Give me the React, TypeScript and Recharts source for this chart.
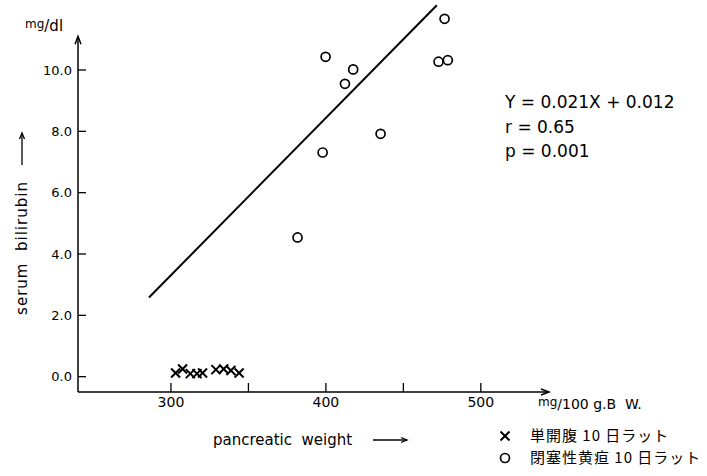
import { ScatterChart, Scatter, XAxis, YAxis, ReferenceLine, Customized } from 'recharts';

// 単開腹 10日ラット (×)
const shamWeight = [303, 307.5, 312.5, 316.8, 320.4, 329, 334, 338.7, 344];
const shamBilirubin = [0.12, 0.25, 0.1, 0.1, 0.12, 0.23, 0.25, 0.2, 0.12];

// 閉塞性黄疸 10日ラット (○)
const jaundiceWeight = [381.7, 397.9, 399.8, 412.3, 417.6, 435.3, 472.7, 476.6, 478.7];
const jaundiceBilirubin = [4.54, 7.31, 10.43, 9.55, 10.02, 7.92, 10.27, 11.67, 10.32];

// regression line ends
const fitWeight = [285.8, 471.6];
const fitBilirubin = [2.58, 12.11];

const xTicks = [300, 350, 400, 450, 500];
const xTickLabels = ['300', '', '400', '', '500'];
const yTicks = [0, 2, 4, 6, 8, 10];

const X_MIN = 240;
const X_MAX = 544;
const Y_MIN = -0.5;
const Y_MAX = 12.25;
const Y_AXIS_TOP = 11.1;

const FONT = '"DejaVu Sans", sans-serif';
const JP_FONT = '"Noto Sans CJK JP", sans-serif';

const sham = shamWeight.map((x, i) => ({ x, y: shamBilirubin[i] }));
const jaundice = jaundiceWeight.map((x, i) => ({ x, y: jaundiceBilirubin[i] }));
const fit = fitWeight.map((x, i) => ({ x, y: fitBilirubin[i] }));

const Cross = ({ cx, cy }: any) => (
  <g stroke="#000" strokeWidth={2}>
    <line x1={cx - 4.5} y1={cy - 4.5} x2={cx + 4.5} y2={cy + 4.5} />
    <line x1={cx - 4.5} y1={cy + 4.5} x2={cx + 4.5} y2={cy - 4.5} />
  </g>
);

const Ring = ({ cx, cy }: any) => (
  <circle cx={cx} cy={cy} r={4.5} fill="#fff" stroke="#000" strokeWidth={1.7} />
);

const AxisArrow = ({ x1, y1, x2, y2 }: any) => {
  const vertical = Math.abs(x1 - x2) < 1;
  const head = vertical
    ? `M${x2 - 3},${y2 + 8} L${x2},${y2} L${x2 + 3},${y2 + 8}`
    : `M${x2 - 8},${y2 - 3} L${x2},${y2} L${x2 - 8},${y2 + 3}`;
  return (
    <g stroke="#000" strokeWidth={1.5} fill="none">
      <line x1={x1} y1={y1} x2={x2} y2={y2} />
      <path d={head} />
    </g>
  );
};

const Annotations = () => (
  <g fontFamily={FONT} fill="#000">
    <text x={25} y={31} fontSize={15}>
      <tspan fontSize={12} dy={-3}>mg</tspan>
      <tspan dy={3}>/dl</tspan>
    </text>

    <text
      x={0}
      y={0}
      fontSize={15}
      letterSpacing={1}
      textAnchor="middle"
      xmlSpace="preserve"
      transform="translate(27,248) rotate(-90)"
    >
      serum  bilirubin
    </text>
    <g stroke="#000" strokeWidth={1.3} fill="none">
      <line x1={22} y1={165} x2={22} y2={133} />
      <path d="M19.5,139 L22,133 L24.5,139" />
    </g>

    <text x={213} y={445} fontSize={15} xmlSpace="preserve">pancreatic  weight</text>
    <g stroke="#000" strokeWidth={1.3} fill="none">
      <line x1={373} y1={440} x2={407} y2={440} />
      <path d="M401,437.5 L407,440 L401,442.5" />
    </g>

    <text x={538} y={409} fontSize={14} xmlSpace="preserve">
      <tspan fontSize={12} dy={-3}>mg</tspan>
      <tspan dy={3}>/100 g.B  W.</tspan>
    </text>

    <text x={505} y={108} fontSize={17}>Y = 0.021X + 0.012</text>
    <text x={505} y={133} fontSize={17}>r = 0.65</text>
    <text x={505} y={157} fontSize={17}>p = 0.001</text>

    <Cross cx={505} cy={436} />
    <text x={530} y={441} fontSize={15} letterSpacing={1} fontFamily={JP_FONT}>単開腹 10 日ラット</text>
    <Ring cx={505} cy={458} />
    <text x={530} y={463} fontSize={15} letterSpacing={1} fontFamily={JP_FONT}>閉塞性黄疸 10 日ラット</text>
  </g>
);

export default function App() {
  return (
    <div style={{ position: 'absolute', left: 0, top: 0, background: '#fff' }}>
      <ScatterChart
        width={707}
        height={476}
        margin={{ top: 1, right: 158, left: 18, bottom: 54 }}
      >
        <XAxis
          type="number"
          dataKey="x"
          domain={[X_MIN, X_MAX]}
          ticks={xTicks}
          tickFormatter={(v: number) => xTickLabels[xTicks.indexOf(v)] ?? ''}
          allowDataOverflow
          axisLine={false}
          tickSize={-9}
          tickMargin={14}
          height={30}
          tick={{ fill: '#000', fontSize: 14, fontFamily: FONT }}
          tickLine={{ stroke: '#000', strokeWidth: 1.3 }}
        />
        <YAxis
          type="number"
          dataKey="y"
          domain={[Y_MIN, Y_MAX]}
          ticks={yTicks}
          tickFormatter={(v: number) => v.toFixed(1)}
          allowDataOverflow
          axisLine={false}
          tickSize={-8}
          tickMargin={14}
          width={60}
          tick={{ fill: '#000', fontSize: 13, fontFamily: FONT }}
          tickLine={{ stroke: '#000', strokeWidth: 1.3 }}
        />
        <ReferenceLine
          segment={[{ x: X_MIN, y: Y_MIN }, { x: X_MIN, y: Y_AXIS_TOP }]}
          ifOverflow="visible"
          shape={AxisArrow}
        />
        <ReferenceLine
          segment={[{ x: X_MIN, y: Y_MIN }, { x: X_MAX, y: Y_MIN }]}
          ifOverflow="visible"
          shape={AxisArrow}
        />
        <Scatter
          data={fit}
          line={{ stroke: '#000', strokeWidth: 2 }}
          shape={() => <g />}
          isAnimationActive={false}
        />
        <Scatter data={sham} shape={Cross} isAnimationActive={false} />
        <Scatter data={jaundice} shape={Ring} isAnimationActive={false} />
        <Customized component={Annotations} />
      </ScatterChart>
    </div>
  );
}
